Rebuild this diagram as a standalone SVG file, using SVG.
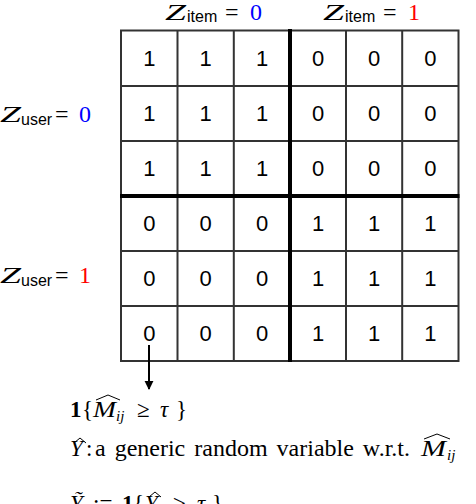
<svg xmlns="http://www.w3.org/2000/svg" width="476" height="504" viewBox="0 0 476 504">
<style>
.cell{font-family:"Liberation Sans",Arial,sans-serif;font-size:22px;fill:#000;text-anchor:middle}
.thin{stroke:#333;stroke-width:2;fill:none}
.thick{stroke:#000;stroke-width:4;fill:none}
.mi{font-family:"Liberation Serif","Times New Roman",serif;font-style:italic;font-size:24px}
.sub{font-family:"Liberation Sans",Arial,sans-serif;font-size:16px}
.rm{font-family:"Liberation Serif","Times New Roman",serif;font-size:24px}
.t{font-family:"Liberation Serif","Times New Roman",serif;font-size:23px}
.ti{font-family:"Liberation Serif","Times New Roman",serif;font-size:23px;font-style:italic}
.ts{font-family:"Liberation Serif","Times New Roman",serif;font-size:15px;font-style:italic}
.tb{font-family:"Liberation Serif","Times New Roman",serif;font-size:23px;font-weight:bold}
.hat{stroke:#000;stroke-width:1;fill:none}
</style>
<defs>
<marker id="ah" viewBox="0 0 10 10" refX="9" refY="5" markerWidth="9" markerHeight="10" markerUnits="userSpaceOnUse" orient="auto">
<path d="M0,0 L10,5 L0,10 z" fill="#000"/>
</marker>
</defs>

<g id="labels">
<g id="z-item-0">
<text class="mi" x="165" y="20" textLength="21" lengthAdjust="spacingAndGlyphs">Z</text><text class="sub" x="187" y="22">item</text><text class="rm" x="225" y="20">=</text><text class="rm" x="250" y="20" fill="#0000ff">0</text>
</g>
<g id="z-item-1">
<text class="mi" x="323" y="20" textLength="21" lengthAdjust="spacingAndGlyphs">Z</text><text class="sub" x="345" y="22">item</text><text class="rm" x="383" y="20">=</text><text class="rm" x="408" y="20" fill="#ff0000">1</text>
</g>
<g id="z-user-0">
<text class="mi" x="0" y="122" textLength="21" lengthAdjust="spacingAndGlyphs">Z</text><text class="sub" x="21" y="125">user</text><text class="rm" x="55" y="122">=</text><text class="rm" x="79" y="122" fill="#0000ff">0</text>
</g>
<g id="z-user-1">
<text class="mi" x="0" y="283" textLength="21" lengthAdjust="spacingAndGlyphs">Z</text><text class="sub" x="21" y="286">user</text><text class="rm" x="55" y="283">=</text><text class="rm" x="79" y="283" fill="#ff0000">1</text>
</g>
</g>

<g id="matrix">
<rect class="thin" x="121" y="30.5" width="337.5" height="330.5"/>
<path class="thin" d="M177.5,30.5V361 M233.8,30.5V361 M346,30.5V361 M402.2,30.5V361 M121,86H458.5 M121,141H458.5 M121,251H458.5 M121,306H458.5"/>
<path class="thick" d="M290,29V362 M120,196H459.5"/>
<g class="cell">
<text x="149.3" y="66">1</text><text x="205.7" y="66">1</text><text x="262" y="66">1</text><text x="318" y="66">0</text><text x="374" y="66">0</text><text x="430.4" y="66">0</text>
<text x="149.3" y="121">1</text><text x="205.7" y="121">1</text><text x="262" y="121">1</text><text x="318" y="121">0</text><text x="374" y="121">0</text><text x="430.4" y="121">0</text>
<text x="149.3" y="176">1</text><text x="205.7" y="176">1</text><text x="262" y="176">1</text><text x="318" y="176">0</text><text x="374" y="176">0</text><text x="430.4" y="176">0</text>
<text x="149.3" y="231">0</text><text x="205.7" y="231">0</text><text x="262" y="231">0</text><text x="318" y="231">1</text><text x="374" y="231">1</text><text x="430.4" y="231">1</text>
<text x="149.3" y="286">0</text><text x="205.7" y="286">0</text><text x="262" y="286">0</text><text x="318" y="286">1</text><text x="374" y="286">1</text><text x="430.4" y="286">1</text>
<text x="149.3" y="341">0</text><text x="205.7" y="341">0</text><text x="262" y="341">0</text><text x="318" y="341">1</text><text x="374" y="341">1</text><text x="430.4" y="341">1</text>
</g>
</g>

<g id="connectors">
<line x1="149" y1="345" x2="149" y2="389" stroke="#000" stroke-width="2" marker-end="url(#ah)"/>
</g>

<g id="formula-1">
<text class="tb" x="70" y="417">1</text>
<text class="t" x="82" y="417">{</text>
<text class="ti" x="93" y="417" textLength="23" lengthAdjust="spacingAndGlyphs">M</text>
<polyline class="hat" points="96,400 108,395 120,400"/>
<text class="ts" x="116" y="421">ij</text>
<text class="t" x="137" y="417">≥</text>
<text class="ti" x="160" y="417">τ</text>
<text class="t" x="176" y="417">}</text>
</g>

<g id="formula-2">
<text class="ti" x="70" y="456">Y</text>
<polyline class="hat" points="74,443 80,438 86,443"/>
<text class="t" x="86" y="456">:</text>
<text class="t" x="95" y="456" style="font-size:24px" word-spacing="3">a generic random variable w.r.t.</text>
<text class="ti" x="421" y="456" textLength="25" lengthAdjust="spacingAndGlyphs">M</text>
<polyline class="hat" points="424,439 437,434 450,439"/>
<text class="ts" x="447" y="460">ij</text>
</g>

<g id="formula-3">
<text class="ti" x="70" y="511">Ỹ</text>
<text class="t" x="93" y="511">:=</text>
<text class="tb" x="122" y="511">1</text>
<text class="t" x="133" y="511">{</text>
<text class="ti" x="145" y="511">Y</text>
<polyline class="hat" points="149,497 155,492 161,497"/>
<text class="t" x="173" y="511">≥</text>
<text class="ti" x="197" y="511">τ</text>
<text class="t" x="212" y="511">}</text>
</g>
</svg>
